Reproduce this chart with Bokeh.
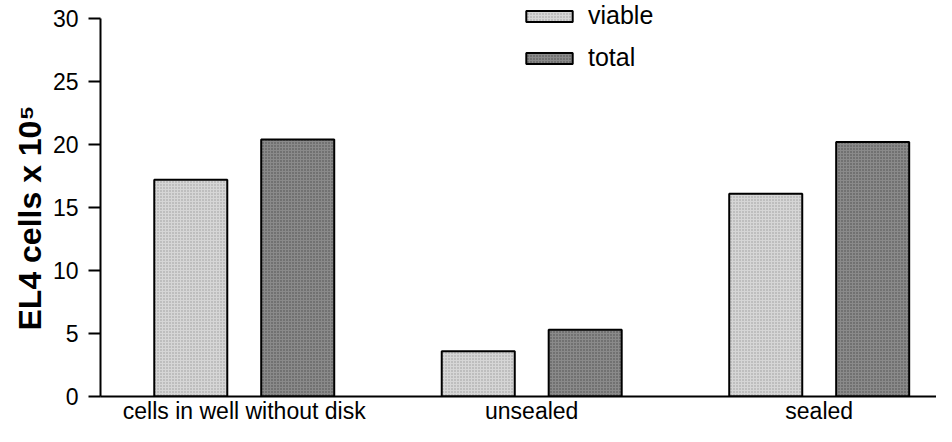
from bokeh.plotting import figure
from bokeh.models import FixedTicker, Range1d, Legend, LegendItem, Title
from bokeh.embed import file_html
from bokeh.resources import INLINE

categories = ["cells in well without disk", "unsealed", "sealed"]
viable = [17.2, 3.6, 16.1]
total = [20.4, 5.3, 20.2]
y_ticks = [0, 5, 10, 15, 20, 25, 30]
y_title = "EL4 cells x 10\u2075"

FONT = "Liberation Sans"

p = figure(width=936, height=426, output_backend="svg", toolbar_location=None,
           x_range=Range1d(0, 2.908), y_range=Range1d(0, 31.43),
           min_border_left=100, min_border_right=0, min_border_top=0, min_border_bottom=28)

idx = list(range(len(categories)))
xv = [i + 0.5 - 0.186 for i in idx]
xt = [i + 0.5 + 0.186 for i in idx]

r_v = p.vbar(x=xv, top=viable, width=0.254, bottom=0,
             fill_color="#d6d6d6", line_color="black", line_width=2,
             hatch_pattern="dot", hatch_color="#9a9a9a", hatch_scale=3, hatch_weight=0.8)
r_t = p.vbar(x=xt, top=total, width=0.254, bottom=0,
             fill_color="#8a8a8a", line_color="black", line_width=2,
             hatch_pattern="dot", hatch_color="#4a4a4a", hatch_scale=3, hatch_weight=0.8)

legend = Legend(items=[LegendItem(label="viable", renderers=[r_v]),
                       LegendItem(label="total", renderers=[r_t])],
                location=(420, 324), orientation="vertical",
                glyph_width=58, glyph_height=14, label_height=27, spacing=13,
                padding=0, margin=0, label_standoff=10,
                label_text_font=FONT, label_text_font_size="25px", label_text_color="black",
                border_line_alpha=0, background_fill_alpha=0)
p.add_layout(legend)

p.xgrid.visible = False
p.ygrid.visible = False
p.outline_line_color = None

# x axis
xa = p.xaxis[0]
xa.ticker = FixedTicker(ticks=[i + 0.5 for i in idx])
xa.major_label_overrides = {i + 0.5: c for i, c in zip(idx, categories)}
xa.major_tick_out = 0
xa.major_tick_in = 0
xa.minor_tick_out = 0
xa.minor_tick_in = 0
xa.axis_line_width = 2
xa.axis_line_color = "black"
xa.major_label_text_font = FONT
xa.major_label_text_font_size = "23px"
xa.major_label_text_color = "black"
xa.major_label_standoff = 1

# y axis
ya = p.yaxis[0]
ya.ticker = FixedTicker(ticks=y_ticks)
ya.bounds = (0, 30)
ya.major_tick_out = 12
ya.major_tick_in = 0
ya.minor_tick_out = 0
ya.minor_tick_in = 0
ya.major_tick_line_width = 2
ya.axis_line_width = 2
ya.axis_line_color = "black"
ya.major_tick_line_color = "black"
ya.major_label_text_font = FONT
ya.major_label_text_font_size = "23px"
ya.major_label_text_color = "black"
ya.major_label_standoff = 10

ytitle = Title(text=y_title, align="left", offset=66, standoff=4,
               text_font=FONT, text_font_style="bold", text_font_size="32px",
               text_color="black")
p.add_layout(ytitle, "left")

open("out.html", "w").write(file_html(p, INLINE))
